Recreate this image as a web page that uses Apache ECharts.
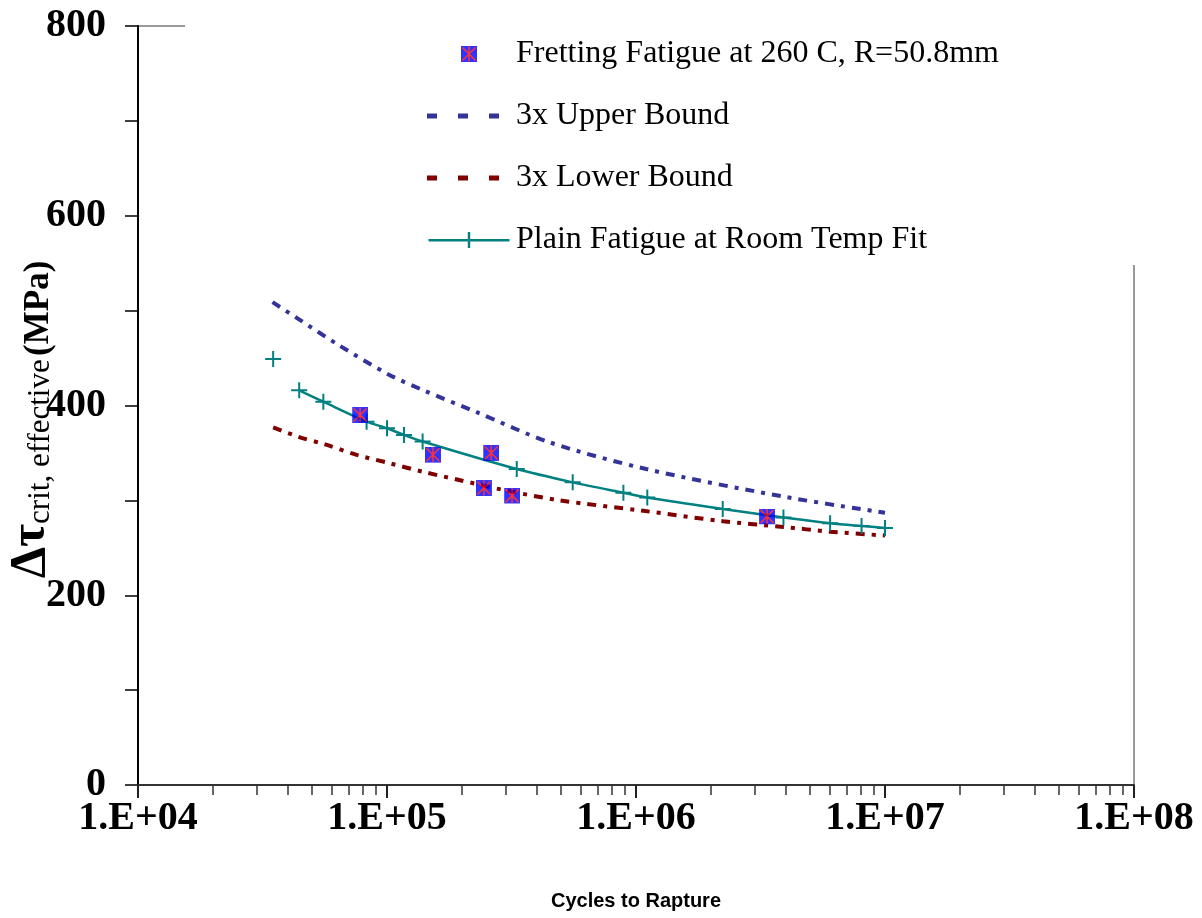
<!DOCTYPE html>
<html><head><meta charset="utf-8">
<script src="https://cdn.jsdelivr.net/npm/echarts@6/dist/echarts.min.js"></script>
<style>html,body{margin:0;padding:0;background:#fff}#c{width:1202px;height:918px}</style>
</head><body><div id="c"></div>
<script>
// ---- data ----
const frettingN   = [7.8e4, 1.53e5, 2.45e5, 2.62e5, 3.18e5, 3.36e6];
const frettingTau = [390, 348, 313, 350, 305, 283];

const upperN   = [3.47e4, 4.48e4, 6.37e4, 1.01e5, 1.40e5, 2.29e5, 4.52e5, 1.10e6, 3.91e6, 1.0e7];
const upperTau = [509, 490, 464, 433, 416, 393, 361, 333, 304, 287];

const lowerN   = [3.49e4, 4.41e4, 5.64e4, 7.55e4, 1.03e5, 1.40e5, 1.91e5, 2.93e5, 4.95e5, 1.07e6, 2.24e6, 3.91e6, 6.01e6, 1.0e7];
const lowerTau = [377, 367, 359, 348, 339, 330, 322, 311, 300, 289, 278, 272, 267, 263];

const plainN   = [3.49e4, 4.44e4, 5.55e4, 8.28e4, 1.0e5, 1.17e5, 1.39e5, 3.32e5, 5.57e5, 8.9e5, 1.11e6, 2.23e6, 3.91e6, 6.02e6, 8.05e6, 1.0e7];
const plainTau = [449, 416, 404, 383, 376, 369, 362, 333, 319, 308, 303, 291, 282, 276, 273, 271];
const plainLineStartsAt = 1; // first plain-fatigue point is not joined to the fit line

const xMajorTicks = [1e4, 1e5, 1e6, 1e7, 1e8];
const xMinorTicks = [];
for (let d = 0; d < xMajorTicks.length - 1; d++) for (let k = 2; k <= 9; k++) xMinorTicks.push(k * xMajorTicks[d]);
const yLabelStep = 200;

const legendNames = ['Fretting Fatigue at 260 C, R=50.8mm', '3x Upper Bound', '3x Lower Bound', 'Plain Fatigue at Room Temp Fit'];

// ---- build ----
const zip = (a, b) => a.map((v, i) => [v, b[i]]);
const plainData = [];
plainN.forEach((n, i) => {
  if (i === plainLineStartsAt) plainData.push([n, null]);
  plainData.push([n, plainTau[i]]);
});

const svg = "<svg xmlns='http://www.w3.org/2000/svg' width='16' height='16' viewBox='0 0 16 16'>" +
  "<rect width='16' height='16' fill='#0000FF'/>" +
  "<path d='M1.5,1.5L14.5,14.5M14.5,1.5L1.5,14.5M8,0.5V15.5' stroke='#FF0000' stroke-width='1.5' fill='none'/></svg>";
const starSquare = 'image://data:image/svg+xml;charset=utf-8,' + encodeURIComponent(svg);
const plusPath = 'path://M0,7H16V9H0Z M7,0H9V16H7Z';
const dashIcon = 'path://M0,0H10V5H0Z M31,0H41V5H31Z M62,0H72V5H62Z M72,2.5L84,2.5';
const plusLineIcon = 'path://M0,7H81V9.4H0Z M39.3,0H41.7V16H39.3Z';

const serif = 'Liberation Serif';
const chart = echarts.init(document.getElementById('c'));
chart.setOption({
  animation: false,
  backgroundColor: '#fff',
  grid: { left: 138, right: 68, top: 26, bottom: 133, containLabel: false, outerBoundsMode: 'none',
          show: true, borderColor: '#999', borderWidth: 2, backgroundColor: 'transparent' },
  graphic: [{ type: 'rect', left: 185, top: 14, z: 3, shape: { width: 960, height: 251 }, style: { fill: '#fff' } }],
  legend: {
    orient: 'vertical', left: 422, top: 31, itemWidth: 84, itemHeight: 16, itemGap: 26,
    textStyle: { fontFamily: serif, fontSize: 32, color: '#000', lineHeight: 36 },
    data: [
      { name: legendNames[0] },
      { name: legendNames[1], icon: dashIcon },
      { name: legendNames[2], icon: dashIcon },
      { name: legendNames[3], icon: plusLineIcon }
    ]
  },
  xAxis: [{
    type: 'log', logBase: 10, min: 1e4, max: 1e8,
    axisLine: { lineStyle: { color: '#333', width: 2 } },
    axisTick: { customValues: xMajorTicks, length: 13, lineStyle: { color: '#222', width: 2 } },
    axisLabel: {
      customValues: xMajorTicks, showMinLabel: true, showMaxLabel: true,
      formatter: v => { const e = Math.round(Math.log10(v)); return '1.E+' + (e < 10 ? '0' : '') + e; },
      fontFamily: serif, fontWeight: 'bold', fontSize: 40, color: '#000', margin: 14
    },
    splitLine: { show: false }, minorTick: { show: false },
    name: 'Cycles to Rapture', nameLocation: 'middle', nameGap: 106,
    nameTextStyle: { fontFamily: 'Liberation Sans', fontWeight: 'bold', fontSize: 20, color: '#000' }
  }, {
    type: 'log', logBase: 10, min: 1e4, max: 1e8, position: 'bottom',
    axisLine: { show: false },
    axisTick: { customValues: xMinorTicks, length: 10, lineStyle: { color: '#333', width: 1.5 } },
    axisLabel: { show: false }, splitLine: { show: false }
  }],
  yAxis: {
    type: 'value', min: 0, max: 800, interval: 100,
    axisLine: { show: true, lineStyle: { color: '#000', width: 2 } },
    axisTick: { show: true, length: 13, lineStyle: { color: '#000', width: 1.5 } },
    axisLabel: { formatter: v => (v % yLabelStep === 0 ? String(v) : ''), fontFamily: serif, fontWeight: 'bold', fontSize: 40, color: '#000', margin: 32 },
    splitLine: { show: false },
    name: '{d|Δτ}{s|crit, effective} {u|(MPa)}',
    nameLocation: 'middle', nameRotate: 90, nameGap: 82, nameMoveOverlap: false,
    nameTextStyle: {
      padding: [0, 28, 0, 0],
      rich: {
        d: { fontFamily: serif, fontWeight: 'bold', fontSize: 50, color: '#000', verticalAlign: 'bottom' },
        s: { fontFamily: serif, fontSize: 31, color: '#000', verticalAlign: 'bottom' },
        u: { fontFamily: serif, fontWeight: 'bold', fontSize: 35, color: '#000', verticalAlign: 'bottom' }
      }
    }
  },
  series: [
    { name: legendNames[1], type: 'line', xAxisIndex: 0, data: zip(upperN, upperTau), symbol: 'none', smooth: 0.3, z: 2,
      itemStyle: { color: '#333399' }, lineStyle: { color: '#333399', width: 4, type: [9, 7, 4, 7] } },
    { name: legendNames[2], type: 'line', xAxisIndex: 0, data: zip(lowerN, lowerTau), symbol: 'none', smooth: 0.3, z: 2,
      itemStyle: { color: '#800000' }, lineStyle: { color: '#800000', width: 4, type: [9, 7, 4, 7] } },
    { name: legendNames[3], type: 'line', xAxisIndex: 0, data: plainData, symbol: plusPath, symbolSize: 16, showSymbol: true,
      showAllSymbol: true, connectNulls: false, smooth: 0.3, z: 3,
      itemStyle: { color: '#008080' }, lineStyle: { color: '#008080', width: 2.5 } },
    { name: legendNames[0], type: 'scatter', xAxisIndex: 0, data: zip(frettingN, frettingTau), symbol: starSquare, symbolSize: 16, z: 5,
      itemStyle: { color: '#0000FF' } }
  ]
});
</script></body></html>
